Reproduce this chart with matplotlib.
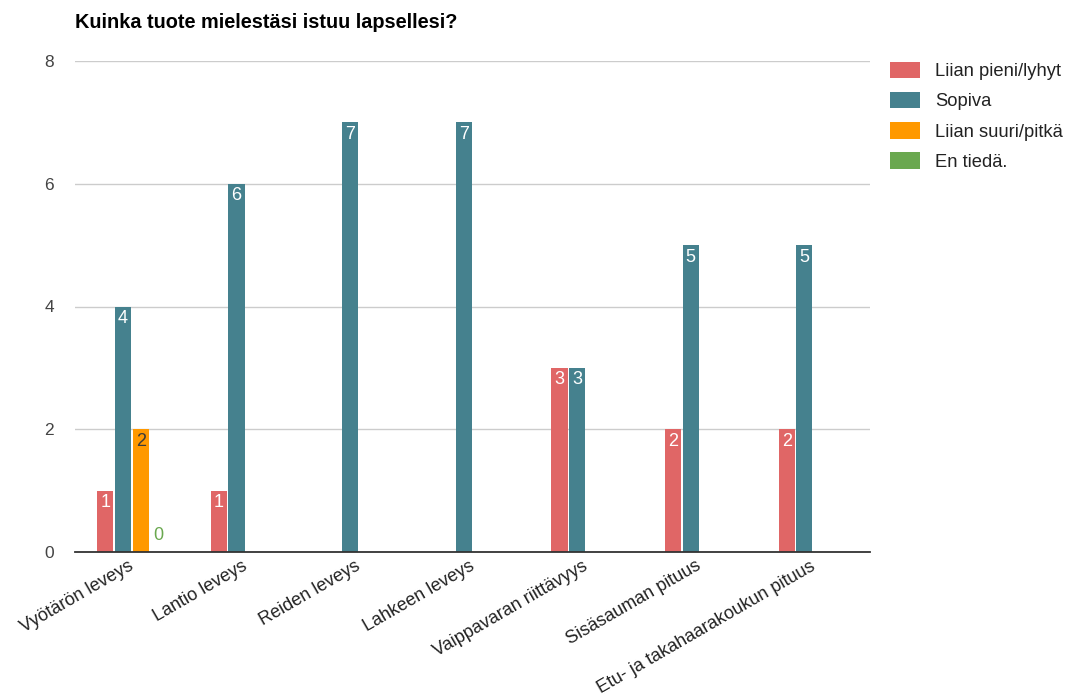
import numpy as np
import matplotlib
matplotlib.use("Agg")
import matplotlib.pyplot as plt
import matplotlib.transforms as mtransforms
from matplotlib.patches import Patch

plt.rcParams['font.family'] = ['Liberation Sans', 'DejaVu Sans']

title = "Kuinka tuote mielestäsi istuu lapsellesi?"
categories = ["Vyötärön leveys", "Lantio leveys", "Reiden leveys", "Lahkeen leveys",
              "Vaippavaran riittävyys", "Sisäsauman pituus", "Etu- ja takahaarakoukun pituus"]
series_names = ["Liian pieni/lyhyt", "Sopiva", "Liian suuri/pitkä", "En tiedä."]
nan = np.nan
liian_pieni = [1, 1, nan, nan, 3, 2, 2]
sopiva = [4, 6, 7, 7, 3, 5, 5]
liian_suuri = [2, nan, nan, nan, nan, nan, nan]
en_tieda = [0, nan, nan, nan, nan, nan, nan]
series = [liian_pieni, sopiva, liian_suuri, en_tieda]
colors = ["#e06666", "#45818e", "#ff9900", "#6aa84f"]
label_colors = ["white", "white", "#3a3a3a", "#6aa84f"]
yticks = [0, 2, 4, 6, 8]

fig = plt.figure(figsize=(10.73, 7.0), dpi=100)
ax = fig.add_axes([75/1073, 1-552/700, (870-75)/1073, (552-61)/700])

n = len(series)
slot = 0.156
bw = slot * 0.91
x = np.arange(len(categories))
for i, (vals, c, lc) in enumerate(zip(series, colors, label_colors)):
    offs = (i - (n-1)/2) * slot
    v = np.array(vals, dtype=float)
    mask = ~np.isnan(v)
    xs = x[mask] + offs
    ax.bar(xs, v[mask], width=bw, color=c, zorder=3, edgecolor='none')
    for xx, vv in zip(xs, v[mask]):
        if vv > 0:
            ax.annotate(f"{int(vv)}", (xx, vv), xytext=(0, -2.5), textcoords='offset points',
                        ha='center', va='top', color=lc, fontsize=13, zorder=4)
        else:
            ax.annotate(f"{int(vv)}", (xx, vv), xytext=(0, 6), textcoords='offset points',
                        ha='center', va='bottom', color=lc, fontsize=13, zorder=4)

ax.set_xlim(-0.5, len(categories) - 0.5)
ax.set_ylim(0, 8)
ax.set_yticks(yticks)
ax.set_yticklabels([str(t) for t in yticks], fontsize=12.5, color="#444444")
ax.yaxis.grid(True, color="#cccccc", linewidth=1, zorder=0)
ax.set_axisbelow(True)
ax.tick_params(axis='y', length=0, pad=15)
ax.tick_params(axis='x', length=0, pad=4)
ax.set_xticks(x)
ax.set_xticklabels(categories, rotation=30, ha='right', rotation_mode='anchor',
                   fontsize=13, color="#222222")
shift = mtransforms.ScaledTranslation(-4/100, 0, fig.dpi_scale_trans)
for lbl in ax.get_xticklabels():
    lbl.set_transform(lbl.get_transform() + shift)
for s in ['top', 'right', 'left']:
    ax.spines[s].set_visible(False)
ax.spines['bottom'].set_color("#333333")
ax.spines['bottom'].set_linewidth(1.3)
ax.spines['bottom'].set_zorder(5)

fig.text(75/1073, 1-22/700, title, fontsize=14.3, fontweight='bold', ha='left', va='center')

handles = [Patch(facecolor=c, edgecolor='none') for c in colors]
fig.legend(handles, series_names, loc='upper left', bbox_to_anchor=(886/1073, 1-58/700),
           frameon=False, fontsize=13.2, handlelength=1.64, handleheight=1.0,
           labelspacing=0.64, handletextpad=0.82, borderaxespad=0, borderpad=0.2,
           labelcolor="#222222")

fig.savefig("out.png", dpi=100)
